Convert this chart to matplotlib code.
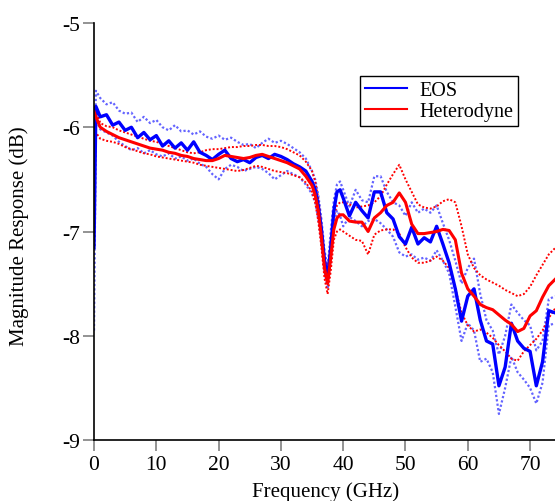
import numpy as np
import matplotlib
matplotlib.use("Agg")
import matplotlib.pyplot as plt

plt.rcParams['font.family'] = ['Liberation Serif', 'DejaVu Serif']

freq = [0, 0.3, 1, 2, 3, 4, 5, 6, 7, 8, 9, 10, 11, 12, 13, 14, 15, 16, 17, 18,
        19, 20, 21, 22, 23, 24, 25, 26, 27, 28, 29, 30, 31, 32, 33, 34, 35,
        35.5, 36, 36.5, 37, 37.5, 38, 38.5, 39, 39.5, 40, 41, 42, 43, 44, 45,
        46, 47, 48, 49, 50, 51, 52, 53, 54, 55, 56, 57, 58, 59, 60, 61, 62, 63,
        64, 65, 66, 67, 68, 69, 70, 71, 72, 73, 74]

eos = [-7.15, -5.80, -5.90, -5.88, -5.98, -5.95, -6.03, -6.00, -6.10, -6.05,
       -6.12, -6.08, -6.18, -6.13, -6.20, -6.15, -6.22, -6.14, -6.24, -6.27,
       -6.31, -6.26, -6.22, -6.30, -6.33, -6.31, -6.34, -6.29, -6.27, -6.30,
       -6.26, -6.28, -6.31, -6.35, -6.38, -6.42, -6.52,
       -6.60, -6.75, -6.98, -7.28, -7.45, -7.15, -6.80, -6.62, -6.60,
       -6.68, -6.85, -6.72, -6.80, -6.87, -6.62, -6.62, -6.82, -6.88, -7.05,
       -7.12, -6.96, -7.12, -7.06, -7.10, -6.95, -7.12, -7.30, -7.55, -7.86,
       -7.62, -7.55, -7.85, -8.05, -8.08, -8.48, -8.30, -7.88, -8.05, -8.12,
       -8.15, -8.48, -8.25, -7.76, -7.78]

eos_hi = [-6.90, -5.65, -5.72, -5.78, -5.76, -5.84, -5.87, -5.86, -5.95, -5.90,
          -5.96, -5.93, -6.00, -6.03, -5.98, -6.04, -6.03, -6.07, -6.04, -6.09,
          -6.11, -6.08, -6.12, -6.10, -6.14, -6.17, -6.16, -6.20, -6.15, -6.11,
          -6.15, -6.13, -6.16, -6.20, -6.24, -6.30, -6.42,
          -6.50, -6.65, -6.88, -7.18, -7.35, -7.00, -6.70, -6.55, -6.52,
          -6.60, -6.76, -6.60, -6.70, -6.72, -6.47, -6.47, -6.62, -6.72, -6.75,
          -6.85, -6.72, -6.82, -6.78, -6.82, -6.75, -6.92, -7.08, -7.28, -7.50,
          -7.35, -7.26, -7.60, -7.85, -7.95, -8.18, -8.00, -7.70, -7.78, -7.85,
          -7.90, -8.14, -8.05, -7.65, -7.62]

eos_lo = [-7.95, -5.92, -6.02, -6.05, -6.08, -6.14, -6.18, -6.22, -6.20, -6.25,
          -6.22, -6.26, -6.28, -6.25, -6.30, -6.28, -6.32, -6.30, -6.35, -6.38,
          -6.45, -6.50, -6.40, -6.36, -6.38, -6.42, -6.40, -6.38, -6.40, -6.44,
          -6.50, -6.46, -6.42, -6.45, -6.48, -6.55, -6.64,
          -6.72, -6.88, -7.10, -7.38, -7.55, -7.25, -6.92, -6.80, -6.85,
          -6.95, -6.86, -6.90, -6.95, -6.90, -6.88, -6.92, -6.98, -7.05, -7.20,
          -7.24, -7.22, -7.27, -7.25, -7.28, -7.18, -7.28, -7.40, -7.72, -8.05,
          -7.88, -7.95, -8.25, -8.22, -8.35, -8.75, -8.50, -8.20, -8.35, -8.42,
          -8.50, -8.65, -8.45, -7.90, -7.88]

het = [-5.85, -5.90, -6.00, -6.04, -6.07, -6.10, -6.12, -6.14, -6.16, -6.18,
       -6.20, -6.21, -6.22, -6.24, -6.25, -6.27, -6.28, -6.30, -6.31, -6.32,
       -6.32, -6.30, -6.27, -6.28, -6.29, -6.30, -6.29, -6.27, -6.26, -6.28,
       -6.30, -6.32, -6.34, -6.37, -6.40, -6.47, -6.56,
       -6.65, -6.80, -7.05, -7.35, -7.50, -7.25, -6.98, -6.87, -6.84,
       -6.84, -6.90, -6.91, -6.91, -7.00, -6.87, -6.82, -6.75, -6.72, -6.63,
       -6.72, -6.93, -7.02, -7.02, -7.01, -7.00, -6.98, -6.99, -7.08, -7.40,
       -7.55, -7.62, -7.70, -7.73, -7.75, -7.80, -7.85, -7.89, -7.96, -7.93,
       -7.81, -7.76, -7.63, -7.52, -7.46]

het_hi = [-5.80, -5.82, -5.96, -5.99, -6.00, -6.03, -6.05, -6.07, -6.09, -6.11,
          -6.13, -6.14, -6.16, -6.18, -6.20, -6.22, -6.24, -6.25, -6.24, -6.22,
          -6.21, -6.21, -6.20, -6.19, -6.19, -6.18, -6.18, -6.17, -6.17, -6.18,
          -6.18, -6.19, -6.21, -6.24, -6.27, -6.33, -6.42,
          -6.52, -6.68, -6.95, -7.25, -7.40, -7.10, -6.85, -6.75, -6.72,
          -6.72, -6.74, -6.77, -6.76, -6.75, -6.72, -6.66, -6.55, -6.45, -6.36,
          -6.50, -6.62, -6.74, -6.77, -6.78, -6.76, -6.71, -6.69, -6.72, -6.95,
          -7.22, -7.35, -7.42, -7.46, -7.49, -7.52, -7.56, -7.59, -7.62, -7.60,
          -7.53, -7.42, -7.32, -7.22, -7.16]

het_lo = [-6.00, -6.05, -6.11, -6.13, -6.14, -6.16, -6.19, -6.21, -6.23, -6.25,
          -6.26, -6.28, -6.29, -6.30, -6.31, -6.32, -6.33, -6.34, -6.36, -6.37,
          -6.38, -6.39, -6.40, -6.41, -6.42, -6.41, -6.39, -6.37, -6.38, -6.40,
          -6.42, -6.43, -6.44, -6.46, -6.48, -6.53, -6.62,
          -6.72, -6.90, -7.15, -7.45, -7.60, -7.38, -7.08, -7.00, -6.98,
          -7.00, -7.04, -7.08, -7.09, -7.22, -7.03, -6.99, -6.98, -6.98, -7.02,
          -7.15, -7.25, -7.30, -7.30, -7.28, -7.24, -7.28, -7.35, -7.55, -7.78,
          -7.90, -7.96, -7.94, -7.97, -8.02, -8.09, -8.15, -8.22, -8.24, -8.15,
          -8.09, -8.03, -7.95, -7.83, -7.74]

xticks = [0, 10, 20, 30, 40, 50, 60, 70]
yticks = [-9, -8, -7, -6, -5]

fig = plt.figure(figsize=(5.55, 5.02), dpi=100)
ax = fig.add_axes([0.1694, 0.1215, 0.8306, 0.8307])

blue = '#0000ff'
red = '#ff0000'
dots = (0, (1, 1))
ax.plot(freq, eos_hi, color='#6464ff', lw=1.6, ls=dots)
ax.plot(freq, eos_lo, color='#6464ff', lw=1.6, ls=dots)
ax.plot(freq, het_hi, color=red, lw=1.4, ls=dots)
ax.plot(freq, het_lo, color=red, lw=1.4, ls=dots)
ax.plot(freq, eos, '-', color=blue, lw=2.4, label='EOS')
ax.plot(freq, het, '-', color=red, lw=2.2, label='Heterodyne')

ax.set_xlim(0, 74)
ax.set_ylim(-9, -5)
ax.set_xticks(xticks)
ax.set_yticks(yticks)
ax.set_yticklabels([str(t) for t in yticks])
for s in ['top', 'right']:
    ax.spines[s].set_visible(False)
for s in ['left', 'bottom']:
    ax.spines[s].set_linewidth(1.2)
ax.tick_params(axis='both', direction='out', length=8, width=1.2,
               color='#808080', labelsize=15.5)
ax.tick_params(axis='x', pad=3)
ax.tick_params(axis='y', pad=2)

ax.set_xlabel('Frequency (GHz)', fontsize=15)
ax.set_ylabel('Magnitude Response (dB)', fontsize=15)
ax.xaxis.set_label_coords(0.503, -0.1)
ax.yaxis.set_label_coords(-0.14, 0.49)

leg = ax.legend(loc='upper left', bbox_to_anchor=(360 / 555, 1 - 77 / 502),
                bbox_transform=fig.transFigure, fontsize=14.5, fancybox=False,
                edgecolor='black', framealpha=1, borderaxespad=0,
                handlelength=2.1, handletextpad=0.6, borderpad=0.25,
                labelspacing=0.1)
leg.get_frame().set_linewidth(1.0)
for line in leg.get_lines():
    line.set_linewidth(1.5)

fig.savefig('out.png', dpi=100)
